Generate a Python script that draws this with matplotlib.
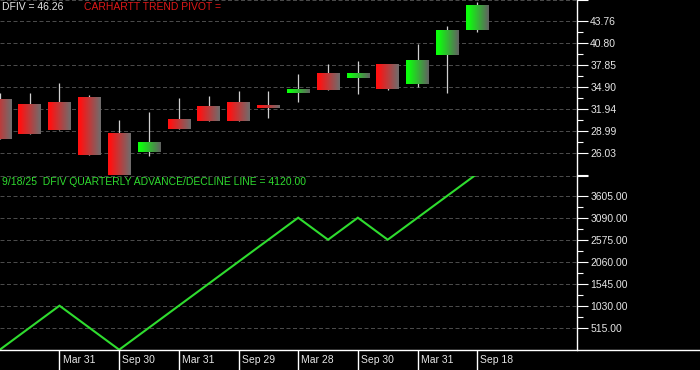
import numpy as np
import matplotlib
matplotlib.use("Agg")
import matplotlib.pyplot as plt
from matplotlib.lines import Line2D

# ---------------- data ----------------
opens  = [33.24, 32.57, 32.84, 33.51, 28.54, 26.16, 30.55, 32.30, 32.84, 32.30,
          34.09, 36.60, 36.10, 37.85, 35.29, 39.19, 42.51]
highs  = [34.00, 34.04, 35.39, 33.78, 30.42, 31.49, 33.37, 33.64, 34.35, 34.35,
          36.60, 37.94, 38.34, 37.85, 40.67, 43.08, 46.31]
lows   = [27.90, 28.58, 29.12, 25.72, 22.90, 25.62, 29.25, 30.32, 30.32, 30.69,
          32.88, 34.45, 33.91, 34.45, 34.85, 34.09, 42.24]
closes = [27.90, 28.58, 29.12, 25.72, 22.90, 27.42, 29.25, 30.32, 30.32, 32.03,
          34.62, 34.45, 36.73, 34.58, 38.48, 42.51, 45.86]
ad_line = [0, 515, 1030, 515, 0, 515, 1030, 1545, 2060, 2575,
           3090, 2575, 3090, 2575, 3090, 3605, 4120]
date_labels = ["Mar 31", "Sep 30", "Mar 31", "Sep 29", "Mar 28", "Sep 30", "Mar 31", "Sep 18"]
date_idx = [2, 4, 6, 8, 10, 12, 14, 16]
price_ticks = [26.03, 28.99, 31.94, 34.90, 37.85, 40.80, 43.76]
ad_ticks = [515, 1030, 1545, 2060, 2575, 3090, 3605]

# ---------------- layout ----------------
W, H = 700, 370
fig = plt.figure(figsize=(7, 3.7), dpi=100, facecolor="black")
plt.rcParams['font.family'] = ['Liberation Sans', 'DejaVu Sans']

axis_x = 577.3
spacing = 29.84
c0 = -0.2
xlim = ((0 - c0) / spacing, (axis_x - c0) / spacing)

def fy(py):
    return 1 - py / H

top_px, mid_px, bot_px = 0.0, 175.5, 349.7
ax1 = fig.add_axes([0, fy(mid_px), axis_x / W, (mid_px - top_px) / H])
ax2 = fig.add_axes([0, fy(bot_px), axis_x / W, (bot_px - mid_px) / H])
ax3 = fig.add_axes([0, 0, axis_x / W, (H - 350.3) / H])

def price(py):
    return 46.536 - 0.13432 * py

p_lo, p_hi = price(mid_px), price(top_px)
ad_hi = (bot_px - mid_px) / 22.0 * 515

grid_kw = dict(color="#4a4a4a", lw=0.72, ls=(0, (4, 2.5)))
txt_col = "#e6e6e6"
fs = 7.5

for ax in (ax1, ax2, ax3):
    ax.set_facecolor("black")
    ax.set_xlim(*xlim)
    for s in ("top", "left", "bottom"):
        ax.spines[s].set_visible(False)
    ax.spines["right"].set_color("white")
    ax.spines["right"].set_linewidth(1.0)
    ax.tick_params(axis="x", which="both", bottom=False, labelbottom=False)

# ---------------- candles ----------------
w = 0.76
red_grad = np.linspace(0, 1, 64)
def grad_img(base, gray):
    t = np.clip((red_grad - 0.1) / 0.9, 0, 1)[None, :, None]
    b = np.array(base)[None, None, :]
    g = np.array(gray)[None, None, :]
    return b * (1 - t) + g * t

img_red = grad_img((1.0, 0.07, 0.07), (0.43, 0.43, 0.43))
img_green = grad_img((0.05, 1.0, 0.05), (0.38, 0.38, 0.38))

for i, (o, h, l, c) in enumerate(zip(opens, highs, lows, closes)):
    ax1.vlines(i, l, h, color="#d0d0d0", lw=0.9, zorder=2)
    img = img_green if c >= o else img_red
    lo_b, hi_b = min(o, c), max(o, c)
    ax1.imshow(img, extent=(i - w / 2, i + w / 2, lo_b, hi_b), aspect="auto",
               interpolation="bilinear", zorder=3)

ax1.set_xlim(*xlim)
ax1.set_ylim(p_lo, p_hi)
ax1.yaxis.tick_right()
t1 = [price(174.9)] + price_ticks + [price(0.4)]
ax1.set_yticks(t1)
ax1.set_yticklabels([""] + ["%.2f" % v for v in price_ticks] + [""])
ax1.set_yticks([(a + b) / 2 for a, b in zip(price_ticks[:-1], price_ticks[1:])], minor=True)
ax1.grid(axis="y", which="major", **grid_kw)
ax1.set_axisbelow(True)

# ---------------- A/D line ----------------
ax2.plot(range(len(ad_line)), ad_line, color="#2fdc2f", lw=1.5, zorder=3,
         solid_joinstyle="miter")
ax2.set_xlim(*xlim)
ax2.set_ylim(0, ad_hi)
ax2.yaxis.tick_right()
t2 = ad_ticks + [ad_hi - 10]
ax2.set_yticks(t2)
ax2.set_yticklabels(["%.2f" % v for v in ad_ticks] + [""])
ax2.set_yticks([(a + b) / 2 for a, b in zip(ad_ticks[:-1], ad_ticks[1:])], minor=True)
ax2.grid(axis="y", which="major", **grid_kw)
ax2.set_axisbelow(True)

for ax in (ax1, ax2):
    ax.tick_params(axis="y", which="major", direction="out", length=7.9, width=0.8,
                   colors="white", labelcolor=txt_col, labelsize=fs, pad=1.4)
    ax.tick_params(axis="y", which="minor", direction="out", length=4.3, width=0.8,
                   colors="white")

# ---------------- date strip ----------------
ax3.set_ylim(0, 1)
ax3.spines["right"].set_visible(False)
ax3.tick_params(axis="y", which="both", left=False, right=False, labelleft=False)
for i, lab in zip(date_idx, date_labels):
    ax3.vlines(i, 0, 1, color="white", lw=1.0)
    ax3.text(i + 3.2 / spacing, 0.5, lab, color=txt_col, fontsize=fs,
             va="center", ha="left")

fig.add_artist(Line2D([0, 1], [fy(350.3), fy(350.3)], transform=fig.transFigure,
                      color="white", lw=1.0))

# ---------------- header texts ----------------
fig.text(1.7 / W, fy(7.0), "DFIV = 46.26", color=txt_col, fontsize=fs,
         va="center", ha="left")
fig.text(84 / W, fy(7.0), "CARHARTT TREND PIVOT =", color="#e01818", fontsize=fs,
         va="center", ha="left")
fig.text(1.7 / W, fy(181.7), "9/18/25  DFIV QUARTERLY ADVANCE/DECLINE LINE = 4120.00",
         color="#2fdc2f", fontsize=fs, va="center", ha="left")

fig.savefig("out.png", dpi=100, facecolor="black")
